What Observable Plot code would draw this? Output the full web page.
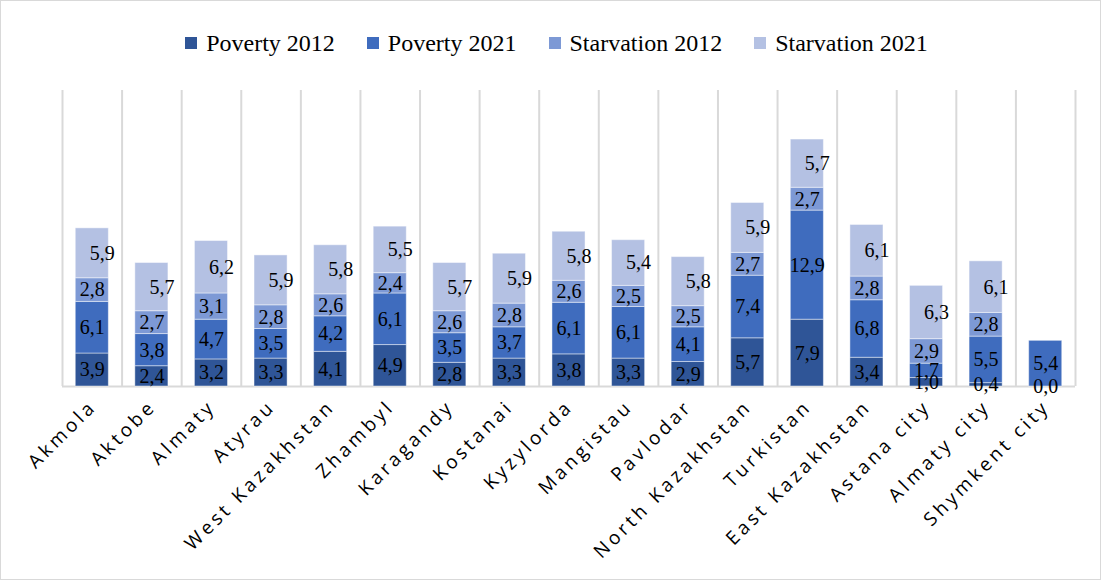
<!DOCTYPE html>
<html><head><meta charset="utf-8">
<script src="https://cdn.jsdelivr.net/npm/d3@7"></script>
<script src="https://cdn.jsdelivr.net/npm/@observablehq/plot@0.6"></script>
<style>
body{margin:0;background:#fff;}
#chart{position:relative;width:1101px;height:580px;box-sizing:border-box;border:1px solid #d9d9d9;overflow:hidden;background:#fff;}
#legend{height:85px;display:flex;justify-content:center;align-items:flex-start;padding-top:26px;padding-left:12px;box-sizing:border-box;gap:32px;font-family:"Liberation Serif","Times New Roman",serif;font-size:24px;color:#000;line-height:32px;}
.item{display:flex;align-items:center;gap:9px;}
.sw{width:12px;height:12px;display:inline-block;}
</style></head><body>
<div id="chart"><div id="legend"></div></div>
<script>
const categories = ["Akmola","Aktobe","Almaty","Atyrau","West Kazakhstan","Zhambyl","Karagandy","Kostanai","Kyzylorda","Mangistau","Pavlodar","North Kazakhstan","Turkistan","East Kazakhstan","Astana city","Almaty city","Shymkent city"];
const series = ["Poverty 2012","Poverty 2021","Starvation 2012","Starvation 2021"];
const poverty2012 = [3.9,2.4,3.2,3.3,4.1,4.9,2.8,3.3,3.8,3.3,2.9,5.7,7.9,3.4,1.0,0.4,0.0];
const poverty2021 = [6.1,3.8,4.7,3.5,4.2,6.1,3.5,3.7,6.1,6.1,4.1,7.4,12.9,6.8,1.7,5.5,5.4];
const starvation2012 = [2.8,2.7,3.1,2.8,2.6,2.4,2.6,2.8,2.6,2.5,2.5,2.7,2.7,2.8,2.9,2.8,null];
const starvation2021 = [5.9,5.7,6.2,5.9,5.8,5.5,5.7,5.9,5.8,5.4,5.8,5.9,5.7,6.1,6.3,6.1,null];
const colors = ["#2F5597","#3F6CBE","#7D99D5","#B4C1E3"];

const seriesValues = [poverty2012, poverty2021, starvation2012, starvation2021];
const rows = [];
categories.forEach((c, i) => {
  seriesValues.forEach((arr, j) => {
    if (arr[i] != null) rows.push({region: c, series: series[j], value: arr[i]});
  });
});

const fmt = v => d3.format(".1f")(v).replace(".", ",");

// legend
const legend = document.getElementById("legend");
series.forEach((s, j) => {
  const it = document.createElement("div");
  it.className = "item";
  it.innerHTML = `<span class="sw" style="background:${colors[j]}"></span><span>${s}</span>`;
  legend.appendChild(it);
});

const W = 1099, H = 493, ml = 61, mr = 25, mt = 4, mb = 193;
const step = (W - ml - mr) / categories.length;
const stack = {x: "region", y: "value", z: "series", order: series};
const serif = "Liberation Serif, Times New Roman, serif";

const chart = Plot.plot({
  width: W, height: H,
  marginLeft: ml, marginRight: mr, marginTop: mt, marginBottom: mb,
  x: {domain: categories, paddingInner: 0.445, paddingOuter: 0.2225, round: false, axis: null},
  y: {domain: [0, 35], axis: null},
  color: {domain: series, range: colors},
  style: {background: "transparent"},
  marks: [
    Plot.tickX(categories, {x: d => d, dx: -step / 2, stroke: "#d9d9d9", strokeWidth: 2}),
    Plot.tickX(categories.slice(-1), {x: d => d, dx: step / 2, stroke: "#d9d9d9", strokeWidth: 2}),
    Plot.ruleY([0], {stroke: "#d9d9d9", strokeWidth: 2}),
    Plot.barY(rows, Plot.stackY({...stack, fill: "series", stroke: "white", strokeOpacity: 0.45, strokeWidth: 1})),
    Plot.text(rows, Plot.stackY({...stack, text: d => d.series === "Starvation 2021" ? "" : fmt(d.value),
      fill: "black", fontSize: 20, fontFamily: serif})),
    Plot.text(rows, Plot.stackY({...stack, text: d => d.series === "Starvation 2021" ? fmt(d.value) : "",
      dx: 10, fill: "black", fontSize: 20, fontFamily: serif})),
    Plot.text(categories, {x: d => d, frameAnchor: "bottom", text: d => d, rotate: -45,
      textAnchor: "end", lineAnchor: "middle", dx: 1, dy: 17, fontSize: 19,
      fontFamily: "Open Sans, DejaVu Sans, sans-serif", fill: "black", ariaLabel: "region-labels"})
  ]
});
document.getElementById("chart").appendChild(chart);
chart.querySelectorAll("g").forEach(g => {
  const ff = g.getAttribute("font-family") || "";
  if (g.getAttribute("aria-label") === "region-labels" || ff.startsWith("Open Sans")) {
    g.querySelectorAll("text").forEach(t => t.setAttribute("letter-spacing", "3.5"));
  }
});
</script>
</body></html>
